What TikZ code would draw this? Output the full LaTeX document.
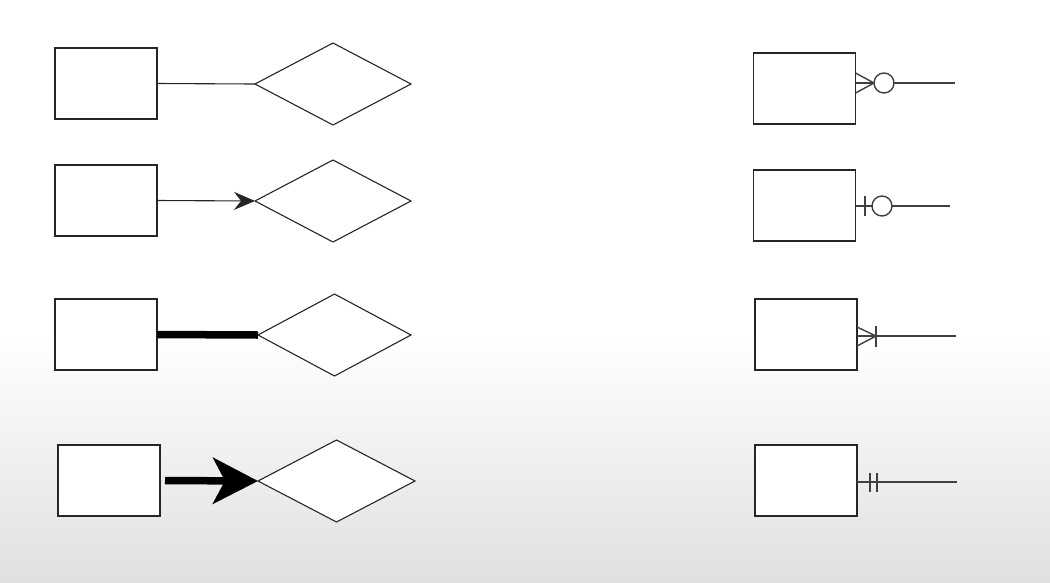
\documentclass[tikz,border=0pt]{standalone}
\usetikzlibrary{shapes.geometric,arrows.meta}
\begin{document}
\begin{tikzpicture}[x=1pt,y=-1pt,
  ent/.style={draw=black!85,line width=1.1pt,rectangle,minimum width=102pt,minimum height=71pt,inner sep=0pt,outer sep=0pt,fill=white},
  rel/.style={draw=black!85,line width=1.1pt,diamond,minimum width=156pt,minimum height=82pt,inner sep=0pt,outer sep=0pt,fill=white},
  conn/.style={draw=black!85,line width=1.1pt},
  rconn/.style={draw=black!75,line width=1.4pt},
  thick conn/.style={draw=black,line width=7.5pt}
]
\useasboundingbox (0,0) rectangle (1050,582);
\fill[white] (0,0) rectangle (1050,582);
\shade[top color=white,bottom color=gray!24] (0,335) rectangle (1050,582);

% left column
\node[ent] (e1) at (106,83.5) {};
\node[rel] (d1) at (333,84) {};
\draw[conn] (e1.east) -- (d1.west);

\node[ent] (e2) at (106,200.5) {};
\node[rel] (d2) at (333,201) {};
\draw[conn,-{Stealth[length=21pt,width=18pt,inset=7pt]}] (e2.east) -- (d2.west);

\node[ent] (e3) at (106,334.5) {};
\node[rel,minimum width=153pt] (d3) at (334.5,335) {};
\draw[thick conn,line cap=butt] (e3.east) -- (d3.west);

\node[ent] (e4) at (109,480.5) {};
\node[rel,minimum width=157pt] (d4) at (336.5,481) {};
\draw[thick conn,shorten <=5pt,-{Stealth[length=45pt,width=46pt,inset=12pt]}] (e4.east) -- (d4.west);

% right column
% row 1: zero or many
\node[ent] (f1) at (804.5,88.5) {};
\coordinate (g1) at (874,83);
\coordinate (z1) at (955,83);
\draw[rconn] (f1.east |- 0,73) -- (g1);
\draw[rconn] (f1.east |- g1) -- (g1);
\draw[rconn] (f1.east |- 0,93) -- (g1);
\draw[rconn] (884,83) circle[radius=10pt];
\draw[rconn] (894,83) -- (z1);

% row 2: zero or one
\node[ent] (f2) at (804.5,205.5) {};
\coordinate (z2) at (950,206);
\draw[rconn] (f2.east |- z2) -- (872,206);
\draw[rconn] (865,196) -- (865,216);
\draw[rconn] (882,206) circle[radius=10pt];
\draw[rconn] (892,206) -- (z2);

% row 3: one or many
\node[ent] (f3) at (806,334.5) {};
\coordinate (g3) at (876,336);
\coordinate (z3) at (956,336);
\draw[rconn] (f3.east |- 0,327) -- (g3);
\draw[rconn] (f3.east |- 0,346) -- (g3);
\draw[rconn] (f3.east |- g3) -- (z3);
\draw[rconn] (876,326) -- (876,347);

% row 4: one and only one
\node[ent] (f4) at (806,480.5) {};
\coordinate (z4) at (957,482);
\draw[rconn] (f4.east |- z4) -- (z4);
\draw[rconn] (870,473) -- (870,492);
\draw[rconn] (877,473) -- (877,492);
\end{tikzpicture}
\end{document}
